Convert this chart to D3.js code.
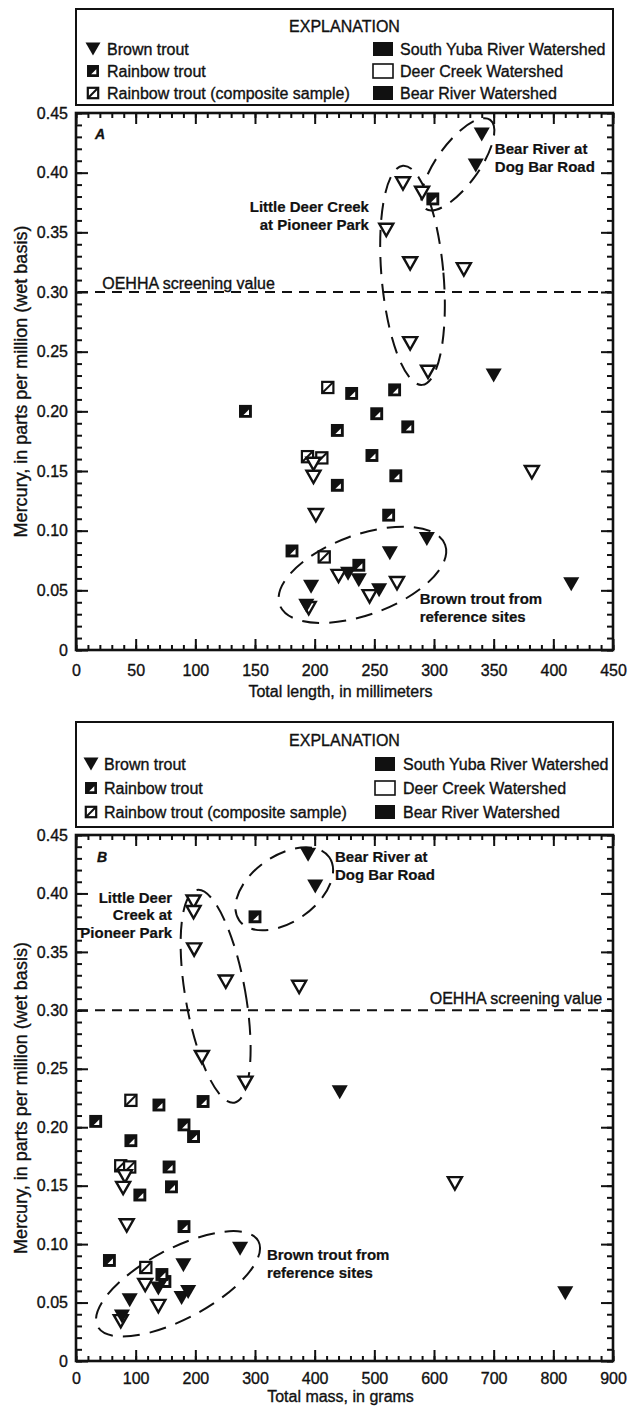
<!DOCTYPE html>
<html>
<head>
<meta charset="utf-8">
<script src="https://cdn.jsdelivr.net/npm/d3@7"></script>
<style>
  body { margin: 0; background: #fff; }
  svg text { font-family: "Liberation Sans", Arial, sans-serif; fill: #111; stroke: #111; stroke-width: 0.35px; }
  .tick line { stroke: #111; stroke-width: 2; }
  .tick text { font-size: 16px; }
  .legend-text { font-size: 16px; }
  .axis-title { font-size: 16px; }
  .y-title { font-size: 18px; }
  .note { font-size: 15px; font-weight: bold; stroke-width: 0.2px; }
</style>
</head>
<body>
<svg id="chart" width="635" height="1407"></svg>
<script>

// ---- data ----
// Panel A: mercury (ppm wet) vs total length (mm)
var brownA = [[340, 0.432], [335, 0.406], [350, 0.230], [294, 0.093], [263, 0.081], [415, 0.055],
              [254, 0.050], [228, 0.064], [237, 0.0585], [197, 0.053], [193, 0.037]];
var brownDeerA = [[274, 0.391], [290, 0.383], [260, 0.352], [280, 0.324], [325, 0.319], [280, 0.257],
                  [295, 0.233], [382, 0.149], [199, 0.156], [199, 0.145], [201, 0.113], [220, 0.062],
                  [269, 0.056], [246, 0.045], [195, 0.035]];
var rainbowA = [[299, 0.378], [267, 0.218], [231, 0.215], [142, 0.200], [252, 0.198], [278, 0.187],
                [219, 0.184], [248, 0.163], [268, 0.146], [219, 0.138], [262, 0.113], [181, 0.083],
                [237, 0.071]];
var compositeA = [[211, 0.220], [194, 0.162], [206, 0.161], [208, 0.078]];

// Panel B: mercury (ppm wet) vs total mass (g)
var brownB = [[389, 0.433], [401, 0.406], [442, 0.230], [275, 0.096], [180, 0.082], [820, 0.058],
              [138, 0.062], [90, 0.052], [177, 0.054], [188, 0.059], [77, 0.038]];
var brownDeerB = [[197, 0.393], [197, 0.384], [198, 0.352], [251, 0.3245], [374, 0.320], [211, 0.260],
                  [284, 0.238], [635, 0.152], [82, 0.158], [79, 0.148], [85, 0.116], [116, 0.065],
                  [138, 0.047], [75, 0.034]];
var rainbowB = [[300, 0.380], [213, 0.222], [139, 0.219], [33, 0.205], [181, 0.202], [197, 0.192],
                [92, 0.1885], [156, 0.166], [160, 0.149], [107, 0.142], [181, 0.115], [56, 0.086],
                [149, 0.068], [144, 0.074]];
var compositeB = [[92, 0.223], [75, 0.167], [90, 0.166], [117, 0.080]];

// ticks
var yTicks = [0, 0.05, 0.10, 0.15, 0.20, 0.25, 0.30, 0.35, 0.40, 0.45];
var xTicksA = [0, 50, 100, 150, 200, 250, 300, 350, 400, 450];
var xTicksB = [0, 100, 200, 300, 400, 500, 600, 700, 800, 900];

var screeningValue = 0.30;

var legendLeft = ["Brown trout", "Rainbow trout", "Rainbow trout (composite sample)"];
var legendRight = ["South Yuba River Watershed", "Deer Creek Watershed", "Bear River Watershed"];

// annotations (centre / anchor in data units)
var ellipsesA = [
    {cx: 320, cy: 0.407, rx: 55, ry: 21, angle: -54},
    {cx: 282, cy: 0.314, rx: 31, ry: 110, angle: -5},
    {cx: 240, cy: 0.063, rx: 88, ry: 40, angle: -20}
];
var notesA = [
    {x: 351, y: 0.4157, anchor: "start", lines: ["Bear River at", "Dog Bar Road"]},
    {x: 245.5, y: 0.367, anchor: "end", lines: ["Little Deer Creek", "at Pioneer Park"]},
    {x: 288, y: 0.0385, anchor: "start", lines: ["Brown trout from", "reference sites"]}
];
var ellipsesB = [
    {cx: 349, cy: 0.404, rx: 55, ry: 33, angle: -35},
    {cx: 234, cy: 0.312, rx: 30, ry: 108, angle: -10},
    {cx: 171, cy: 0.066, rx: 91, ry: 35, angle: -28}
];
var notesB = [
    {x: 434, y: 0.4265, anchor: "start", lines: ["Bear River at", "Dog Bar Road"]},
    {x: 161, y: 0.392, anchor: "end", lines: ["Little Deer", "Creek at", "Pioneer Park"]},
    {x: 320, y: 0.0863, anchor: "start", lines: ["Brown trout from", "reference sites"]}
];


var svg = d3.select("#chart");

/*
 * marker path helpers
 */
function triPath(w, h) {
    return "M" + (-w / 2) + "," + (-h / 2) + "L" + (w / 2) + "," + (-h / 2) + "L0," + (h / 2) + "Z";
}

function drawMarker(sel, kind, s) {
    // s = nominal size in px
    if (kind === "brown") {
        sel.append("path").attr("d", triPath(s * 1.15, s)).attr("fill", "#111");
    }
    else if (kind === "brownDeer") {
        sel.append("path").attr("d", triPath(s * 1.0, s * 0.88))
            .attr("fill", "#fff").attr("stroke", "#111").attr("stroke-width", 2.4)
            .attr("stroke-linejoin", "miter");
    }
    else if (kind === "rainbow") {
        var h = s * 0.46;
        sel.append("rect").attr("x", -h).attr("y", -h).attr("width", 2 * h).attr("height", 2 * h).attr("fill", "#111");
        sel.append("path").attr("d", "M" + (-h * 0.3) + "," + (h * 0.55) + "L" + (h * 0.55) + "," + (h * 0.55) + "L" + (h * 0.55) + "," + (-h * 0.3) + "Z")
            .attr("fill", "#fff");
    }
    else if (kind === "composite") {
        var c = s * 0.4;
        sel.append("rect").attr("x", -c).attr("y", -c).attr("width", 2 * c).attr("height", 2 * c)
            .attr("fill", "#fff").attr("stroke", "#111").attr("stroke-width", 2.2);
        sel.append("line").attr("x1", -c).attr("y1", c).attr("x2", c).attr("y2", -c)
            .attr("stroke", "#111").attr("stroke-width", 2);
    }
}


/*
 * one panel: legend box, framed plot, markers, annotations
 */
function drawPanel(p) {
    var g = svg.append("g");

    var x = d3.scaleLinear().domain([0, p.xTicks[p.xTicks.length - 1]]).range([p.left, p.right]);
    var y = d3.scaleLinear().domain([0, 0.45]).range([p.bottom, p.top]);

    var xMinor = d3.range(0, p.xTicks[p.xTicks.length - 1] + 1, p.xMinorStep);
    var yMinor = d3.range(0, 46).map(function(i) { return i / 100; });

    function clean(a) { a.select(".domain").remove(); a.attr("font-size", null).attr("font-family", null); }

    // minor ticks, all four sides
    g.append("g").attr("transform", "translate(0," + p.bottom + ")")
        .call(d3.axisBottom(x).tickValues(xMinor).tickSize(-5).tickFormat("")).call(clean);
    g.append("g").attr("transform", "translate(0," + p.top + ")")
        .call(d3.axisTop(x).tickValues(xMinor).tickSize(-5).tickFormat("")).call(clean);
    g.append("g").attr("transform", "translate(" + p.left + ",0)")
        .call(d3.axisLeft(y).tickValues(yMinor).tickSize(-6).tickFormat("")).call(clean);
    g.append("g").attr("transform", "translate(" + p.right + ",0)")
        .call(d3.axisRight(y).tickValues(yMinor).tickSize(-6).tickFormat("")).call(clean);

    // major ticks
    g.append("g").attr("transform", "translate(0," + p.bottom + ")")
        .call(d3.axisBottom(x).tickValues(p.xTicks).tickSize(-11).tickPadding(p.xPad).tickFormat(d3.format("d"))).call(clean);
    g.append("g").attr("transform", "translate(0," + p.top + ")")
        .call(d3.axisTop(x).tickValues(p.xTicks).tickSize(-11).tickFormat("")).call(clean);
    g.append("g").attr("transform", "translate(" + p.left + ",0)")
        .call(d3.axisLeft(y).tickValues(yTicks).tickSize(-12).tickPadding(8)
            .tickFormat(function(d) { return d === 0 ? "0" : d3.format(".2f")(d); })).call(clean);
    g.append("g").attr("transform", "translate(" + p.right + ",0)")
        .call(d3.axisRight(y).tickValues(yTicks).tickSize(-12).tickFormat("")).call(clean);

    // frame
    g.append("rect")
        .attr("x", p.left).attr("y", p.top)
        .attr("width", p.right - p.left).attr("height", p.bottom - p.top)
        .attr("fill", "none").attr("stroke", "#111").attr("stroke-width", 2.6);

    // axis titles
    g.append("text").attr("class", "axis-title")
        .attr("x", (p.left + p.right) / 2 - 4).attr("y", p.xTitleY)
        .attr("text-anchor", "middle").text(p.xTitle);
    g.append("text").attr("class", "y-title")
        .attr("transform", "translate(27," + ((p.top + p.bottom) / 2) + ") rotate(-90)")
        .attr("text-anchor", "middle")
        .text("Mercury, in parts per million (wet basis)");

    // screening value line
    g.append("line")
        .attr("x1", p.left + 2).attr("x2", p.right - 2)
        .attr("y1", y(screeningValue)).attr("y2", y(screeningValue))
        .attr("stroke", "#111").attr("stroke-width", 2).attr("stroke-dasharray", "10,7");
    g.append("text").attr("class", "axis-title")
        .attr("x", x(p.screenLabel.x)).attr("y", y(p.screenLabel.y))
        .attr("text-anchor", p.screenLabel.anchor)
        .text("OEHHA screening value");

    // panel letter
    g.append("text")
        .attr("x", x(p.letterAt[0])).attr("y", y(p.letterAt[1]))
        .attr("font-size", 14).attr("font-weight", "bold").attr("font-style", "italic")
        .text(p.letter);

    // dashed ellipses
    g.selectAll(".ring").data(p.ellipses).enter()
        .append("ellipse")
        .attr("class", "ring")
        .attr("transform", function(d) { return "translate(" + x(d.cx) + "," + y(d.cy) + ") rotate(" + d.angle + ")"; })
        .attr("rx", function(d) { return d.rx; })
        .attr("ry", function(d) { return d.ry; })
        .attr("fill", "none").attr("stroke", "#111").attr("stroke-width", 2)
        .attr("stroke-dasharray", "17,10");

    // markers: squares first, then triangles on top
    var layers = [["rainbow", p.rainbow], ["composite", p.composite], ["brownDeer", p.brownDeer], ["brown", p.brown]];
    layers.forEach(function(l) {
        g.append("g").selectAll("g").data(l[1]).enter()
            .append("g")
            .attr("transform", function(d) { return "translate(" + x(d[0]) + "," + y(d[1]) + ")"; })
            .each(function() { drawMarker(d3.select(this), l[0], 14); });
    });

    // annotation labels
    p.notes.forEach(function(n) {
        var t = g.append("text").attr("class", "note")
            .attr("text-anchor", n.anchor)
            .attr("x", x(n.x)).attr("y", y(n.y));
        n.lines.forEach(function(line, i) {
            t.append("tspan").attr("x", x(n.x)).attr("dy", i === 0 ? 0 : p.noteLead).text(line);
        });
    });

    // legend box
    var L = p.legend;
    g.append("rect")
        .attr("x", p.left).attr("y", L.top)
        .attr("width", p.right - p.left).attr("height", L.bottom - L.top)
        .attr("fill", "#fff").attr("stroke", "#111").attr("stroke-width", 2);
    g.append("text").attr("class", "legend-text")
        .attr("x", (p.left + p.right) / 2).attr("y", L.rows[0] - L.step + 6)
        .attr("text-anchor", "middle").text("EXPLANATION");

    var kinds = ["brown", "rainbow", "composite"];
    legendLeft.forEach(function(label, i) {
        var row = g.append("g").attr("transform", "translate(" + L.sym1 + "," + L.rows[i] + ")");
        drawMarker(row, kinds[i], 13);
        g.append("text").attr("class", "legend-text")
            .attr("x", L.text1).attr("y", L.rows[i] + 6).text(label);
    });
    legendRight.forEach(function(label, i) {
        var r = g.append("g").attr("transform", "translate(" + L.sym2 + "," + L.rows[i] + ")");
        r.append("rect").attr("x", 0).attr("y", -7).attr("width", 20).attr("height", 14)
            .attr("fill", i === 1 ? "#fff" : "#111")
            .attr("stroke", "#111").attr("stroke-width", i === 1 ? 1.6 : 0);
        g.append("text").attr("class", "legend-text")
            .attr("x", L.text2).attr("y", L.rows[i] + 6).text(label);
    });
}


drawPanel({
    top: 113, bottom: 650, left: 76, right: 613,
    xTicks: xTicksA, xMinorStep: 10, xPad: 15,
    xTitle: "Total length, in millimeters", xTitleY: 697,
    brown: brownA, brownDeer: brownDeerA, rainbow: rainbowA, composite: compositeA,
    ellipses: ellipsesA, notes: notesA, noteLead: 18,
    screenLabel: {x: 22, y: 0.3025, anchor: "start"},
    letter: "A", letterAt: [16, 0.428],
    legend: {top: 9, bottom: 105, rows: [49, 71, 93], step: 23, sym1: 93, text1: 107, sym2: 373, text2: 400}
});

drawPanel({
    top: 835, bottom: 1361, left: 76, right: 613,
    xTicks: xTicksB, xMinorStep: 20, xPad: 12,
    xTitle: "Total mass, in grams", xTitleY: 1402,
    brown: brownB, brownDeer: brownDeerB, rainbow: rainbowB, composite: compositeB,
    ellipses: ellipsesB, notes: notesB, noteLead: 17.5,
    screenLabel: {x: 882, y: 0.3051, anchor: "end"},
    letter: "B", letterAt: [35, 0.4265],
    legend: {top: 722, bottom: 827, rows: [764, 788, 812], step: 24, sym1: 91, text1: 104, sym2: 375, text2: 403}
});

</script>
</body>
</html>
